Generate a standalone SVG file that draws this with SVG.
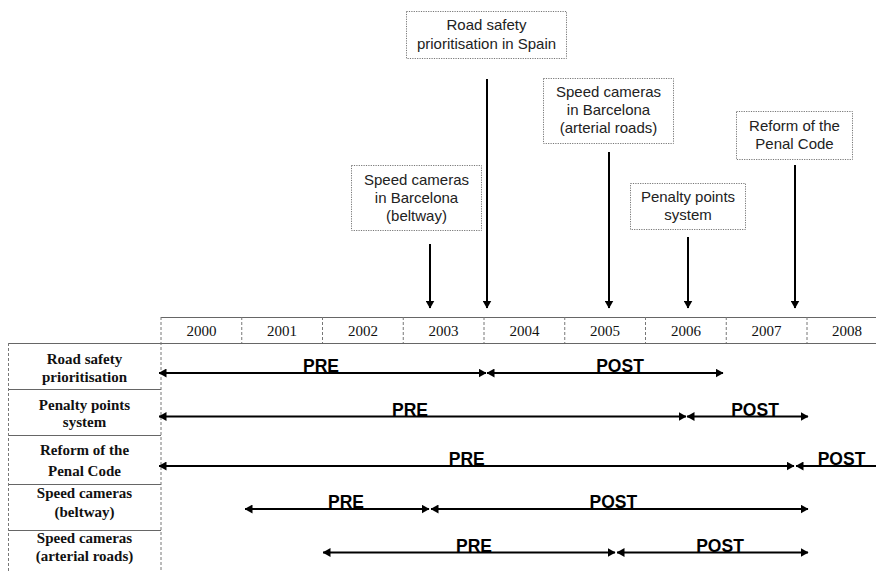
<svg xmlns="http://www.w3.org/2000/svg" width="876" height="572" viewBox="0 0 876 572">
<style>
.box{fill:#fff;stroke:#777;stroke-width:1;stroke-dasharray:1.2 1.2}
.ct{font-family:"Liberation Sans",Arial,sans-serif;font-size:15px;fill:#222;text-anchor:middle}
.yr{font-family:"Liberation Serif","Times New Roman",serif;font-size:15px;fill:#111;text-anchor:middle}
.rl{font-family:"Liberation Serif","Times New Roman",serif;font-size:15px;font-weight:bold;fill:#111;text-anchor:middle}
.pp{font-family:"Liberation Sans",Arial,sans-serif;font-size:17.5px;font-weight:bold;fill:#000;text-anchor:middle}
.hl{stroke:#666;stroke-width:1;fill:none}
.vl{stroke:#777;stroke-width:1;stroke-dasharray:3 2;fill:none}
.ar{stroke:#000;stroke-width:2;fill:none}
.a2{stroke:#000;stroke-width:2;fill:none;marker-start:url(#ah);marker-end:url(#ah)}
.a1{stroke:#000;stroke-width:2;fill:none;marker-start:url(#ah)}
.av{stroke:#000;stroke-width:2;fill:none;marker-end:url(#ah)}
</style>
<defs>
<marker id="ah" markerUnits="userSpaceOnUse" markerWidth="8" markerHeight="9" refX="7.5" refY="4.5" orient="auto-start-reverse" viewBox="0 0 8 9">
<path d="M0,0 L8,4.5 L0,9 z" fill="#000"/>
</marker>
</defs>
<g id="table">
<line class="hl" x1="161" y1="317.5" x2="876" y2="317.5"/>
<line class="hl" x1="8" y1="343.5" x2="876" y2="343.5"/>
<line class="hl" x1="8" y1="389.5" x2="161" y2="389.5"/>
<line class="hl" x1="8" y1="435.5" x2="161" y2="435.5"/>
<line class="hl" x1="8" y1="484.5" x2="161" y2="484.5"/>
<line class="hl" x1="8" y1="530.5" x2="161" y2="530.5"/>
<line class="vl" x1="8.5" y1="343" x2="8.5" y2="572"/>
<line class="vl" x1="161" y1="317" x2="161" y2="572"/>
<line class="vl" x1="241.75" y1="317" x2="241.75" y2="343"/>
<line class="vl" x1="322.5" y1="317" x2="322.5" y2="343"/>
<line class="vl" x1="403.25" y1="317" x2="403.25" y2="343"/>
<line class="vl" x1="484" y1="317" x2="484" y2="343"/>
<line class="vl" x1="564.75" y1="317" x2="564.75" y2="343"/>
<line class="vl" x1="645.5" y1="317" x2="645.5" y2="343"/>
<line class="vl" x1="726.25" y1="317" x2="726.25" y2="343"/>
<line class="vl" x1="807" y1="317" x2="807" y2="343"/>
<text class="yr" x="201.4" y="336">2000</text>
<text class="yr" x="282.1" y="336">2001</text>
<text class="yr" x="362.9" y="336">2002</text>
<text class="yr" x="443.6" y="336">2003</text>
<text class="yr" x="524.4" y="336">2004</text>
<text class="yr" x="605.1" y="336">2005</text>
<text class="yr" x="685.9" y="336">2006</text>
<text class="yr" x="766.6" y="336">2007</text>
<text class="yr" x="847" y="336">2008</text>
</g>
<g id="row-road-safety">
<text class="rl" x="84.5" y="364">Road safety</text>
<text class="rl" x="84.5" y="382">prioritisation</text>
</g>
<g id="row-penalty-points">
<text class="rl" x="84.5" y="410">Penalty points</text>
<text class="rl" x="84.5" y="427">system</text>
</g>
<g id="row-penal-code">
<text class="rl" x="84.5" y="455">Reform of the</text>
<text class="rl" x="84.5" y="476">Penal Code</text>
</g>
<g id="row-cameras-beltway">
<text class="rl" x="84.5" y="498">Speed cameras</text>
<text class="rl" x="84.5" y="517">(beltway)</text>
</g>
<g id="row-cameras-arterial">
<text class="rl" x="84.5" y="543">Speed cameras</text>
<text class="rl" x="84.5" y="561">(arterial roads)</text>
</g>
<g id="callout-road-safety">
<rect class="box" x="406.5" y="11.5" width="160" height="47"/>
<text class="ct" x="486.5" y="30">Road safety</text>
<text class="ct" x="486.5" y="49">prioritisation in Spain</text>
</g>
<g id="callout-cameras-beltway">
<rect class="box" x="351.5" y="165.5" width="130" height="65"/>
<text class="ct" x="416.5" y="185">Speed cameras</text>
<text class="ct" x="416.5" y="203">in Barcelona</text>
<text class="ct" x="416.5" y="221">(beltway)</text>
</g>
<g id="callout-cameras-arterial">
<rect class="box" x="543.5" y="78.5" width="130" height="65"/>
<text class="ct" x="608.5" y="97">Speed cameras</text>
<text class="ct" x="608.5" y="115">in Barcelona</text>
<text class="ct" x="608.5" y="133">(arterial roads)</text>
</g>
<g id="callout-penalty-points">
<rect class="box" x="630.5" y="183.5" width="115" height="46"/>
<text class="ct" x="688" y="202">Penalty points</text>
<text class="ct" x="688" y="220">system</text>
</g>
<g id="callout-penal-code">
<rect class="box" x="736.5" y="111.5" width="116" height="48"/>
<text class="ct" x="794.5" y="130.5">Reform of the</text>
<text class="ct" x="794.5" y="149">Penal Code</text>
</g>
<g id="connectors">
<line class="av" x1="430" y1="244" x2="430" y2="308"/>
<line class="av" x1="487" y1="79" x2="487" y2="308"/>
<line class="av" x1="609" y1="152" x2="609" y2="308"/>
<line class="av" x1="688" y1="237" x2="688" y2="308"/>
<line class="av" x1="795" y1="165" x2="795" y2="308"/>
<line class="a2" x1="159" y1="373" x2="486" y2="373"/>
<line class="a2" x1="487" y1="373" x2="723" y2="373"/>
<line class="a2" x1="159" y1="416.5" x2="686" y2="416.5"/>
<line class="a2" x1="687" y1="416.5" x2="808" y2="416.5"/>
<line class="a2" x1="159" y1="466" x2="794" y2="466"/>
<line class="a1" x1="796" y1="466" x2="876" y2="466"/>
<line class="a2" x1="245" y1="509" x2="429" y2="509"/>
<line class="a2" x1="431" y1="509" x2="808" y2="509"/>
<line class="a2" x1="323" y1="552.5" x2="615" y2="552.5"/>
<line class="a2" x1="617" y1="552.5" x2="808" y2="552.5"/>
</g>
<g id="labels">
<text class="pp" x="321" y="372">PRE</text>
<text class="pp" x="620" y="372">POST</text>
<text class="pp" x="410" y="415.5">PRE</text>
<text class="pp" x="755" y="415.5">POST</text>
<text class="pp" x="466.7" y="465">PRE</text>
<text class="pp" x="841.5" y="465">POST</text>
<text class="pp" x="346" y="508">PRE</text>
<text class="pp" x="613.3" y="508">POST</text>
<text class="pp" x="474" y="551.5">PRE</text>
<text class="pp" x="720" y="551.5">POST</text>
</g>
</svg>
